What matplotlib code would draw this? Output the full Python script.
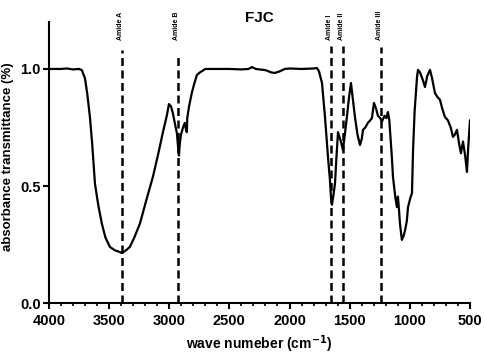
import numpy as np
import matplotlib.pyplot as plt

plt.rcParams['font.family'] = ['Liberation Sans', 'DejaVu Sans']

# Data
wavenumber = [4000, 3900, 3850, 3800, 3750, 3726, 3700, 3680, 3659, 3640, 3617, 3590,
              3560, 3530, 3493, 3450, 3420, 3393, 3360, 3327, 3290, 3243, 3190, 3135,
              3090, 3052, 3020, 3002, 2985, 2969, 2950, 2936, 2925, 2919, 2912, 2902,
              2885, 2870, 2860, 2853, 2850, 2835, 2811, 2790, 2770, 2745, 2700, 2600,
              2500, 2400, 2340, 2312, 2280, 2200, 2150, 2121, 2080, 2040, 1996, 1900,
              1800, 1772, 1755, 1730, 1705, 1680, 1664, 1655, 1647, 1635, 1622, 1610,
              1597, 1585, 1573, 1556, 1540, 1523, 1505, 1489, 1475, 1456, 1435, 1414,
              1400, 1389, 1370, 1348, 1330, 1315, 1298, 1280, 1265, 1245, 1232, 1210,
              1195, 1182, 1170, 1165, 1150, 1140, 1120, 1107, 1099, 1090, 1082, 1066,
              1050, 1040, 1025, 1015, 995, 982, 973, 960, 940, 932, 915, 890, 874, 855,
              832, 815, 791, 770, 749, 730, 708, 683, 660, 641, 625, 608, 590, 575, 558,
              540, 525, 515, 500]
absorbance = [1.0, 1.0, 1.002, 0.998, 1.0, 0.995, 0.96, 0.89, 0.795, 0.68, 0.51, 0.42,
              0.34, 0.28, 0.24, 0.225, 0.22, 0.214, 0.225, 0.24, 0.28, 0.34, 0.44, 0.54,
              0.64, 0.73, 0.80, 0.85, 0.84, 0.81, 0.76, 0.726, 0.66, 0.63, 0.68, 0.72,
              0.75, 0.77, 0.74, 0.73, 0.79, 0.84, 0.90, 0.94, 0.974, 0.985, 1.0, 1.0,
              1.0, 0.998, 1.0, 1.008, 1.0, 0.995, 0.985, 0.983, 0.99, 1.0, 1.002, 1.0,
              1.002, 1.004, 0.99, 0.94, 0.795, 0.624, 0.526, 0.45, 0.42, 0.46, 0.51, 0.62,
              0.73, 0.71, 0.69, 0.654, 0.72, 0.795, 0.88, 0.94, 0.88, 0.795, 0.72, 0.675,
              0.70, 0.74, 0.75, 0.77, 0.78, 0.79, 0.855, 0.83, 0.80, 0.79, 0.775, 0.80,
              0.79, 0.816, 0.78, 0.74, 0.63, 0.54, 0.45, 0.41, 0.455, 0.40, 0.34, 0.27,
              0.29, 0.31, 0.35, 0.41, 0.45, 0.47, 0.654, 0.82, 0.966, 0.996, 0.985, 0.95,
              0.923, 0.97, 0.996, 0.96, 0.897, 0.88, 0.868, 0.83, 0.795, 0.78, 0.75, 0.71,
              0.72, 0.74, 0.68, 0.64, 0.69, 0.63, 0.56, 0.66, 0.78]

band_names = ['Amide A', 'Amide B', 'Amide I', 'Amide II', 'Amide III']
band_positions = [3390, 2925, 1655, 1555, 1238]
band_tops = [1.08, 1.055, 1.10, 1.10, 1.094]

fig = plt.figure(figsize=(4.84, 3.57), dpi=100)
ax = fig.add_axes([0.101, 0.151, 0.870, 0.787])

ax.plot(wavenumber, absorbance, color='black', lw=1.6, zorder=3)

# Dashed band markers with rotated labels
for name, pos, top in zip(band_names, band_positions, band_tops):
    ax.plot([pos, pos], [0, top], color='black', lw=1.8,
            linestyle=(0, (3.2, 1.8)), zorder=2, clip_on=False)
    ax.text(pos + 15, 1.125, name, rotation=90, ha='center', va='bottom',
            fontsize=5, fontweight='bold', clip_on=False)

ax.text(0.535, 0.95, 'FJC', transform=fig.transFigure, ha='center', va='center',
        fontsize=11, fontweight='bold')

ax.set_xlim(4000, 500)
ax.set_ylim(0, 1.2)
ax.set_xticks(np.arange(4000, 499, -500))
ax.set_xticks(np.arange(4000, 499, -100), minor=True)
ax.set_yticks([0.0, 0.5, 1.0])
ax.set_yticklabels(['0.0', '0.5', '1.0'])

ax.set_xlabel('wave numeber (cm$^{\\mathbf{-1}}$)', fontsize=10, fontweight='bold', labelpad=4)
ax.set_ylabel('absorbance transmittance (%)', fontsize=9.5, fontweight='bold')
ax.yaxis.set_label_coords(-0.083, 0.52)

for lab in ax.get_xticklabels() + ax.get_yticklabels():
    lab.set_fontweight('bold')
ax.tick_params(axis='both', which='major', labelsize=10.5, width=1.5, length=4, direction='out')
ax.tick_params(axis='y', which='major', pad=2)
ax.tick_params(axis='x', which='minor', width=1.2, length=2.5)

ax.spines['top'].set_visible(False)
ax.spines['right'].set_visible(False)
ax.spines['left'].set_linewidth(1.5)
ax.spines['bottom'].set_linewidth(1.5)

plt.savefig('out.png', dpi=100)
